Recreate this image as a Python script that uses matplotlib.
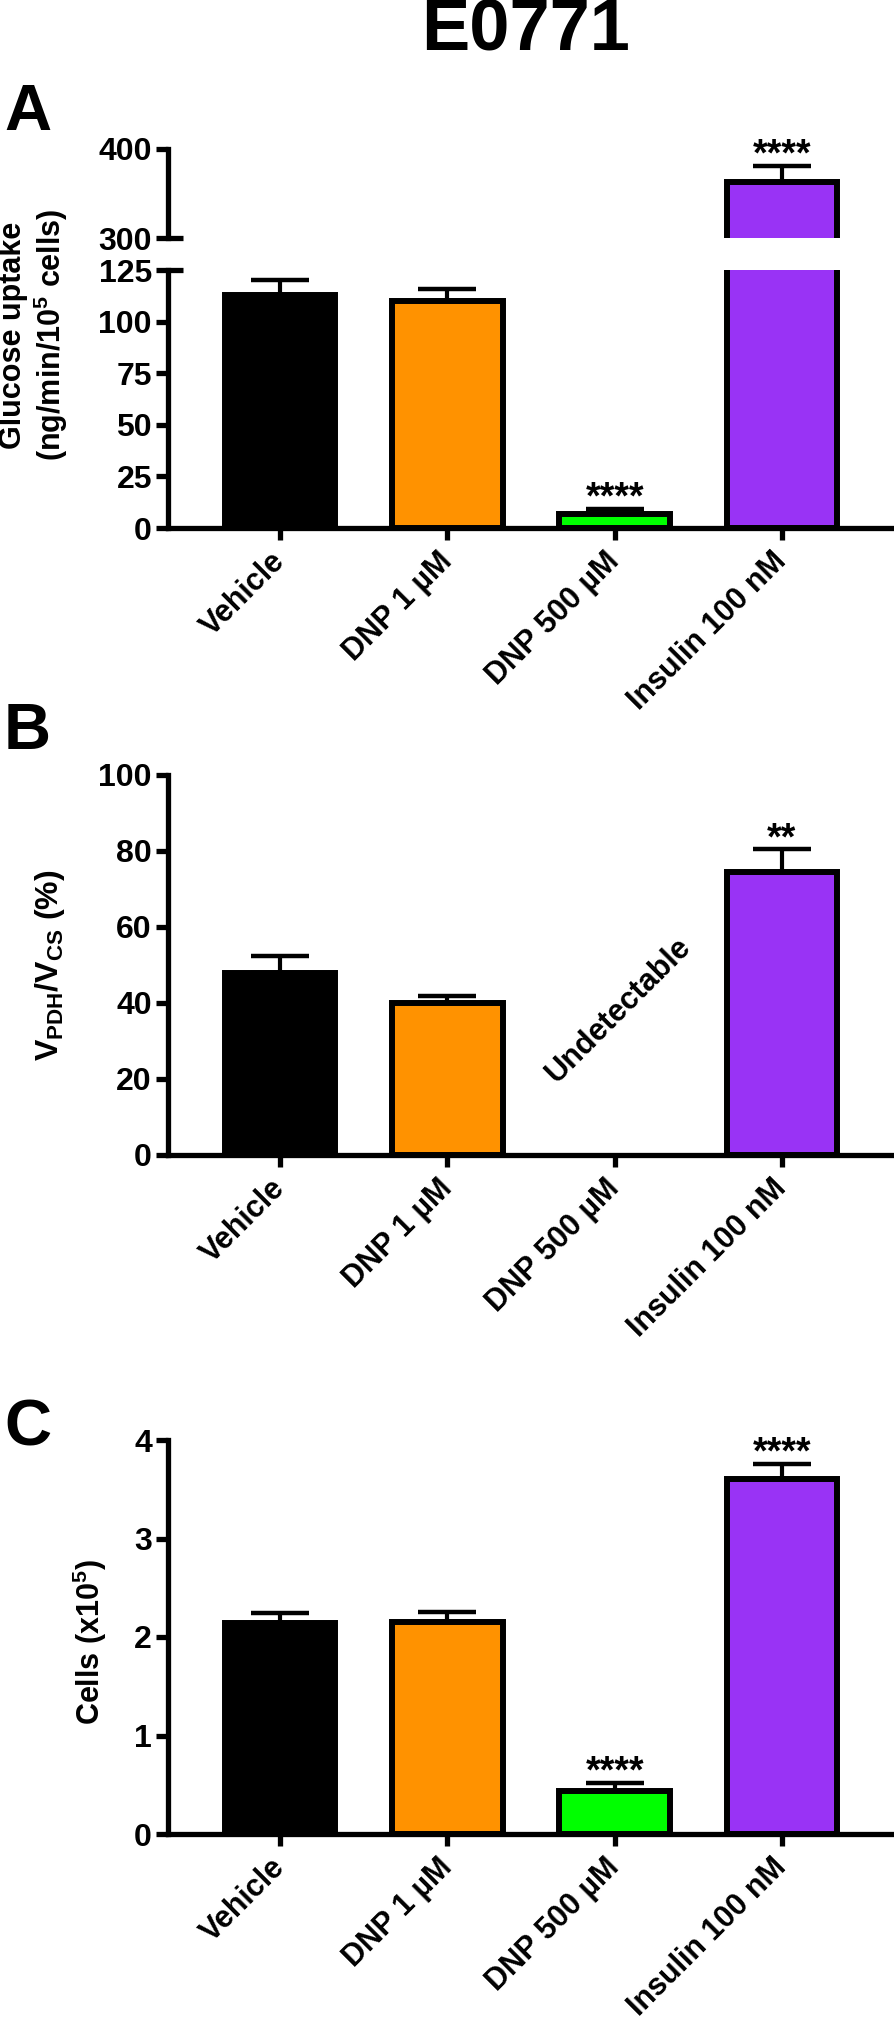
import numpy as np
import matplotlib
matplotlib.use('Agg')
import matplotlib.pyplot as plt

# ---------------- data ----------------
categories = ['Vehicle', 'DNP 1 µM', 'DNP 500 µM', 'Insulin 100 nM']
colors = ['#000000', '#FF9200', '#00FF00', '#9933F5']

glucose_mean = [113, 110, 7, 363]
glucose_err = [7, 6, 2.4, 18]
glucose_sig = ['', '', '****', '****']

pdh_mean = [48, 40, np.nan, 74.5]
pdh_err = [4.5, 1.8, np.nan, 6]
pdh_sig = ['', '', '', '**']

cells_mean = [2.14, 2.15, 0.44, 3.60]
cells_err = [0.10, 0.10, 0.08, 0.16]
cells_sig = ['', '', '****', '****']

glucose_low_ticks = [0, 25, 50, 75, 100, 125]
glucose_high_ticks = [300, 400]
pdh_ticks = [0, 20, 40, 60, 80, 100]
cells_ticks = [0, 1, 2, 3, 4]

# ---------------- style ----------------
plt.rcParams['font.family'] = ['Liberation Sans', 'DejaVu Sans']
plt.rcParams['font.weight'] = 'bold'
plt.rcParams['mathtext.fontset'] = 'custom'
plt.rcParams['mathtext.rm'] = 'Liberation Sans:bold'
plt.rcParams['mathtext.it'] = 'Liberation Sans:bold'
plt.rcParams['mathtext.bf'] = 'Liberation Sans:bold'

W, H = 894, 2020
fig = plt.figure(figsize=(W / 100, H / 100), dpi=100)


def rect(top, bottom, left=168, right=894):
    return [left / W, 1 - bottom / H, (right - left) / W, (bottom - top) / H]


X = np.arange(len(categories))
LW = 3.8


def draw_bars(ax, mean, err, sig):
    m = np.array(mean, float)
    e = np.array(err, float)
    ok = ~np.isnan(m)
    ax.bar(X[ok], m[ok], width=0.66, color=np.array(colors)[ok],
           edgecolor='black', linewidth=4.3, zorder=2)
    ax.errorbar(X[ok], m[ok], yerr=[np.zeros(ok.sum()), e[ok]], fmt='none',
                ecolor='black', elinewidth=3, capsize=21, capthick=3.2, zorder=3)
    for xi, mi, ei, s in zip(X, m, e, sig):
        if s:
            ax.annotate(s, xy=(xi, mi + ei), xytext=(0, 0),
                        textcoords='offset points', ha='center', va='baseline',
                        fontsize=27, fontweight='bold')


def style(ax, yticks, ylim, bottom=True):
    ax.set_xlim(-0.67, 3.67)
    ax.set_ylim(ylim)
    ax.set_yticks(yticks)
    for s in ['top', 'right']:
        ax.spines[s].set_visible(False)
    ax.spines['left'].set_linewidth(LW)
    ax.spines['bottom'].set_linewidth(LW)
    ax.tick_params(axis='both', length=8.6, width=LW, direction='out')
    ax.tick_params(axis='y', pad=3, labelsize=23)
    if bottom:
        ax.set_xticks(X)
        ax.set_xticklabels(categories, rotation=45, ha='right', va='center',
                           rotation_mode='anchor')
        ax.tick_params(axis='x', pad=12, labelsize=22)
    else:
        ax.spines['bottom'].set_visible(False)
        ax.set_xticks([])


# ---------------- Panel A (broken axis) ----------------
axA_hi = fig.add_axes(rect(149, 238))
axA_lo = fig.add_axes(rect(270, 528))
for ax in (axA_hi, axA_lo):
    draw_bars(ax, glucose_mean, glucose_err, glucose_sig)
style(axA_hi, glucose_high_ticks, (300, 400), bottom=False)
style(axA_lo, glucose_low_ticks, (0, 125), bottom=True)
# break marks
axA_hi.plot([0, 0.02], [0, 0], transform=axA_hi.transAxes, color='black',
            lw=LW, clip_on=False, solid_capstyle='butt')
axA_lo.plot([0, 0.02], [1, 1], transform=axA_lo.transAxes, color='black',
            lw=LW, clip_on=False, solid_capstyle='butt')

# ---------------- Panel B ----------------
axB = fig.add_axes(rect(775, 1155))
draw_bars(axB, pdh_mean, pdh_err, pdh_sig)
style(axB, pdh_ticks, (0, 100))
axB.text(2.02, 38, 'Undetectable', rotation=45, ha='center', va='center',
         fontsize=22, fontweight='bold')

# ---------------- Panel C ----------------
axC = fig.add_axes(rect(1440, 1834))
draw_bars(axC, cells_mean, cells_err, cells_sig)
style(axC, cells_ticks, (0, 4))

# ---------------- labels ----------------
fig.text(526 / W, 1 - 31 / H, 'E0771', ha='center', va='center',
         fontsize=52, fontweight='bold')
for lab, yb in (('A', 130), ('B', 749), ('C', 1446)):
    fig.text(4 / W, 1 - yb / H, lab, ha='left', va='baseline',
             fontsize=47, fontweight='bold')

fig.text(34 / W, 1 - 335 / H, 'Glucose uptake\n(ng/min/10$^{5}$ cells)',
         rotation=90, ha='center', va='center', fontsize=22,
         fontweight='bold', linespacing=1.1, multialignment='center')
fig.text(50 / W, 1 - 965 / H, r'V$_{PDH}$/V$_{CS}$ (%)', rotation=90,
         ha='center', va='center', fontsize=23, fontweight='bold')
fig.text(90 / W, 1 - 1642 / H, 'Cells (x10$^{5}$)', rotation=90,
         ha='center', va='center', fontsize=22, fontweight='bold')

fig.savefig('out.png', dpi=100)
